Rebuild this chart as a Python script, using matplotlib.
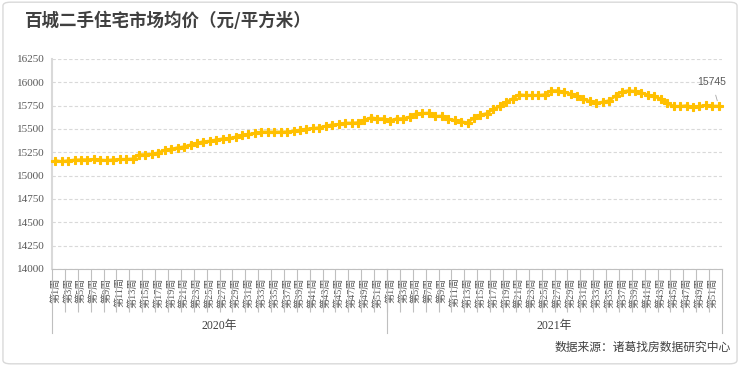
import matplotlib
matplotlib.use("Agg")
import matplotlib.pyplot as plt
from matplotlib.patches import FancyBboxPatch
import numpy as np

plt.rcParams['font.family'] = ['Liberation Serif', 'Noto Sans CJK SC', 'DejaVu Sans']

title = "百城二手住宅市场均价（元/平方米）"
source = "数据来源：诸葛找房数据研究中心"
years = ["2020年", "2021年"]

prices_2020 = [15161, 15152, 15161, 15168, 15171, 15171, 15175, 15168, 15164, 15171,
               15175, 15175, 15180, 15225, 15225, 15232, 15245, 15275, 15285, 15300,
               15310, 15330, 15350, 15365, 15370, 15385, 15395, 15400, 15415, 15432,
               15443, 15454, 15468, 15468, 15468, 15468, 15470, 15479, 15489, 15500,
               15507, 15514, 15532, 15546, 15550, 15564, 15564, 15568, 15596, 15621,
               15611, 15611]
prices_2021 = [15589, 15611, 15611, 15629, 15665, 15668, 15671, 15636, 15639, 15607,
               15593, 15578, 15568, 15620, 15652, 15666, 15714, 15743, 15786, 15825,
               15868, 15861, 15861, 15861, 15868, 15911, 15911, 15896, 15875, 15857,
               15821, 15796, 15779, 15789, 15804, 15857, 15900, 15911, 15904, 15889,
               15864, 15850, 15821, 15779, 15743, 15743, 15750, 15736, 15743, 15754,
               15746, 15745]
weeks_2020 = [f"第{w}周" for w in range(1, 53)]
weeks_2021 = [f"第{w}周" for w in range(1, 53)]

yticks = [14000, 14250, 14500, 14750, 15000, 15250, 15500, 15750, 16000, 16250]

values = prices_2020 + prices_2021
labels = weeks_2020 + weeks_2021
n1 = len(prices_2020)
n = len(values)
x = np.arange(n)

W, H = 740, 366
fig = plt.figure(figsize=(W / 100, H / 100), dpi=100)
ax = fig.add_axes([52 / W, 1 - 269 / H, 670 / W, 210 / H])

ax.plot(x, values, color='#FFC000', lw=2, marker='P', ms=5.2,
        mec='#FFC000', mfc='#FFC000', mew=0.8, zorder=3, clip_on=False)

ax.set_xlim(-0.5, n - 0.5)
ax.set_ylim(yticks[0], yticks[-1])
ax.set_yticks(yticks)
ax.set_yticklabels([str(v) for v in yticks], fontsize=8, color='#595959')
ax.tick_params(axis='y', length=0, pad=5)
ax.yaxis.grid(True, ls=(0, (3, 2)), color='#d9d9d9', lw=0.8)
ax.set_axisbelow(True)

major = x[::2]
ax.set_xticks(major)
ax.set_xticklabels([labels[i] for i in major], rotation=90, fontsize=7.3,
                   color='#595959', va='top', ha='center')
ax.tick_params(axis='x', which='major', length=0, pad=6)
minor = np.arange(1.5, n - 1, 2)
ax.set_xticks(minor, minor=True)
ax.tick_params(axis='x', which='minor', length=31, width=0.8, color='#bfbfbf', direction='out')

for s in ['top', 'right']:
    ax.spines[s].set_visible(False)
ax.spines['left'].set_color('#d9d9d9')
ax.spines['left'].set_linewidth(1.5)
ax.spines['bottom'].set_color('#bfbfbf')
ax.spines['bottom'].set_linewidth(0.8)

tr = ax.get_xaxis_transform()
for xv in [-0.5, n1 - 0.5, n - 0.5]:
    ax.plot([xv, xv], [0, -0.305], transform=tr, color='#bfbfbf', lw=0.8, clip_on=False)

ax.text((n1 - 1) / 2, -0.272, years[0], transform=tr, ha='center', va='center',
        fontsize=8.5, color='#404040')
ax.text(n1 + (n - n1 - 1) / 2, -0.272, years[1], transform=tr, ha='center', va='center',
        fontsize=8.5, color='#404040')

ax.annotate(str(values[-1]), xy=(x[-1], values[-1]), xytext=(712, H - 82),
            textcoords='figure pixels', ha='center', va='center', fontsize=7.5,
            color='#595959', family=['Liberation Sans'],
            arrowprops=dict(arrowstyle='-', color='#a6a6a6', lw=0.6, shrinkA=4, shrinkB=4))

fig.text(25 / W, 1 - 21 / H, title, ha='left', va='center', fontsize=12.6,
         fontweight='bold', color='#404040', family=['Noto Sans CJK SC'])
fig.text(731 / W, 1 - 347 / H, source, ha='right', va='center', fontsize=8.5,
         color='#404040', family=['Noto Sans CJK SC'])

fig.patches.append(FancyBboxPatch((0.004, 0.006), 0.992, 0.988,
                                  boxstyle="round,pad=0,rounding_size=0.01",
                                  transform=fig.transFigure, fc='none',
                                  ec='#d9d9d9', lw=1))

fig.savefig("out.png", dpi=100)
